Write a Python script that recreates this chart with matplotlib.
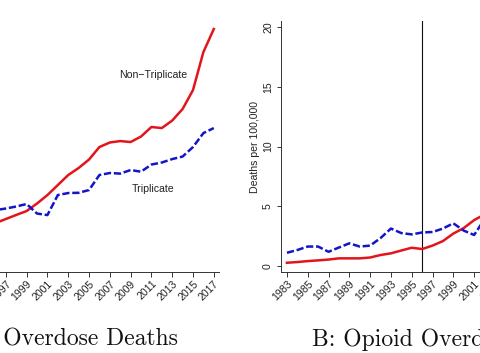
import matplotlib
matplotlib.use("Agg")
import matplotlib.pyplot as plt

# ---- data (deaths per 100,000) ----
years_a = list(range(1996, 2018))
a_nontrip = [3.58, 3.92, 4.26, 4.59, 5.22, 5.93, 6.77, 7.61, 8.20, 8.91, 9.96,
             10.34, 10.46, 10.38, 10.84, 11.64, 11.55, 12.18, 13.15, 14.74, 17.93, 19.86]
a_trip = [4.67, 4.80, 4.97, 5.18, 4.38, 4.25, 5.93, 6.10, 6.12, 6.35, 7.61,
          7.78, 7.73, 8.03, 7.89, 8.49, 8.66, 8.95, 9.16, 9.96, 11.13, 11.55]

years_b = list(range(1983, 2003))
b_nontrip = [0.25, 0.31, 0.39, 0.45, 0.52, 0.62, 0.62, 0.62, 0.69, 0.90, 1.04,
             1.28, 1.51, 1.40, 1.69, 2.07, 2.70, 3.16, 3.83, 4.30]
b_trip = [1.09, 1.32, 1.61, 1.61, 1.17, 1.53, 1.88, 1.61, 1.69, 2.32, 3.12,
          2.74, 2.63, 2.79, 2.83, 3.12, 3.56, 2.95, 2.58, 3.90]

xticks_a = list(range(1997, 2018, 2))   # visible part of panel A
xticks_b = list(range(1983, 2004, 2))   # visible part of panel B
yticks = [0, 5, 10, 15, 20]
titles = ["A: Overdose Deaths", "B: Opioid Overdose Deaths"]
ylabel = "Deaths per 100,000"
policy_year = 1996

RED = "#e3141b"
BLUE = "#1414c8"
W, H = 480, 353
fig = plt.figure(figsize=(W / 100, H / 100), dpi=100)

def rect(l, r, t, b):
    return [l / W, (H - b) / H, (r - l) / W, (b - t) / H]

sans = ["Liberation Sans", "DejaVu Sans"]
top, bot = 21.4, 271.7
axA = fig.add_axes(rect(-146.0, 219.0, top, bot))
axB = fig.add_axes(rect(280.7, 645.7, top, bot))

for ax, yrs, nt, tr, xt in [(axA, years_a, a_nontrip, a_trip, xticks_a),
                            (axB, years_b, b_nontrip, b_trip, xticks_b)]:
    ax.plot(yrs, nt, color=RED, lw=1.8, solid_joinstyle="round", zorder=3)
    ax.plot(yrs, tr, color=BLUE, lw=1.8, dashes=(2.9, 1.1), zorder=4)
    ax.axvline(policy_year, color="#111111", lw=0.8, zorder=2)
    ax.set_xlim(1982.4, 2017.5)
    ax.set_ylim(-0.5, 20.5)
    ax.set_xticks(xt)
    ax.set_xticklabels([str(y) for y in xt], rotation=45, ha="right",
                       rotation_mode="anchor", fontsize=7.6, family=sans, color="#222222")
    ax.set_yticks(yticks)
    ax.tick_params(axis="x", length=3.5, width=0.7, pad=1.5, color="#333333")
    ax.tick_params(axis="y", length=3.0, width=0.7, pad=2.5, color="#333333")
    for s in ["top", "right"]:
        ax.spines[s].set_visible(False)
    for s in ["left", "bottom"]:
        ax.spines[s].set_linewidth(0.7)
        ax.spines[s].set_color("#333333")
    ax.patch.set_alpha(0)

# panel A's y axis lies outside the visible crop
axA.tick_params(axis="y", labelleft=False)

axB.set_yticklabels([str(v) for v in yticks], rotation=90, va="center",
                    fontsize=7.6, family=sans, color="#222222")
axB.set_ylabel(ylabel, fontsize=7.6, family=sans, color="#222222", labelpad=2.5)

axA.text(2007.9, 16.0, "Non\u2212Triplicate", fontsize=7.6, family=sans,
         color="#222222", va="center", ha="left")
axA.text(2009.1, 6.43, "Triplicate", fontsize=7.6, family=sans,
         color="#222222", va="center", ha="left")

serif = ["cmr10", "DejaVu Serif"]
fig.text(178.3 / W, 7.3 / H, titles[0], fontsize=17, family=serif,
         ha="right", va="baseline", color="#111111")
fig.text(311.7 / W, 7.3 / H, titles[1], fontsize=17, family=serif,
         ha="left", va="baseline", color="#111111")

fig.savefig("out.png", dpi=100)
